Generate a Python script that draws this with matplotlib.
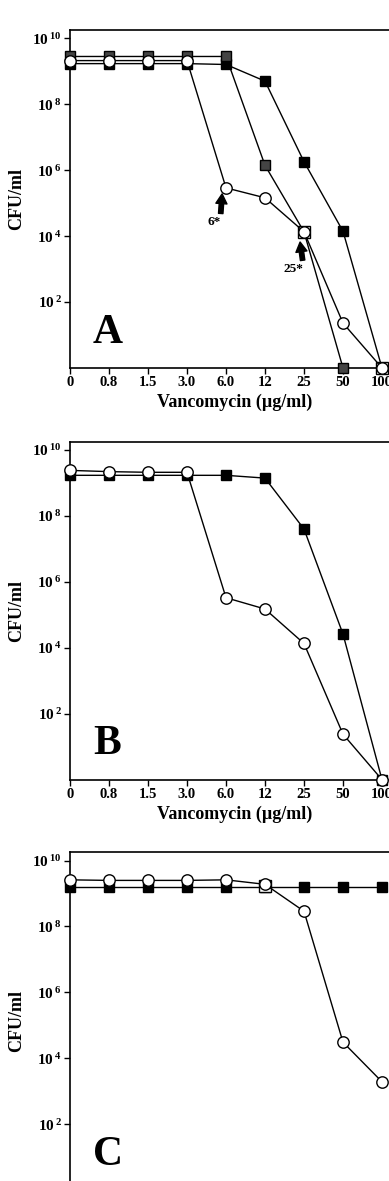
import numpy as np
import matplotlib
matplotlib.use("Agg")
import matplotlib.pyplot as plt

plt.rcParams["font.family"] = ["Liberation Serif", "DejaVu Serif"]
plt.rcParams["font.weight"] = "bold"
plt.rcParams["mathtext.fontset"] = "custom"
plt.rcParams["mathtext.rm"] = "Liberation Serif"
plt.rcParams["mathtext.bf"] = "Liberation Serif:bold"

# Vancomycin concentrations (ug/ml), evenly spaced categories
x_labels = ["0", "0.8", "1.5", "3.0", "6.0", "12", "25", "50", "100"]
nan = np.nan

# Panel A
a_black = [1.7e9, 1.7e9, 1.7e9, 1.7e9, 1.6e9, 5e8, 1.8e6, 1.4e4, 1]
a_gray = [2.8e9, 2.8e9, 2.8e9, 2.8e9, 2.8e9, 1.4e6, 1.35e4, 1, nan]
a_open_sq = [nan, nan, nan, nan, nan, nan, 1.35e4, nan, 1]
a_circ = [2.1e9, 2.1e9, 2.1e9, 2.1e9, 2.9e5, 1.45e5, 1.35e4, 23, 1]

# Panel B
b_black = [1.7e9, 1.7e9, 1.7e9, 1.7e9, 1.7e9, 1.4e9, 4e7, 2.6e4, 1]
b_circ = [2.4e9, 2.2e9, 2.1e9, 2.1e9, 3.3e5, 1.5e5, 1.35e4, 24, 1]

# Panel C
c_black = [1.6e9, 1.6e9, 1.6e9, 1.6e9, 1.6e9, 1.6e9, 1.6e9, 1.6e9, 1.6e9]
c_open_sq = [nan, nan, nan, nan, nan, 1.7e9, nan, nan, nan]
c_circ = [2.6e9, 2.5e9, 2.5e9, 2.5e9, 2.6e9, 1.9e9, 2.9e8, 3.1e4, 1.95e3]

y_ticks = [1e2, 1e4, 1e6, 1e8, 1e10]
y_ticklabels = [r"$\mathbf{10^{\,%d}}$" % int(np.log10(v)) for v in y_ticks]

W, H = 389, 1181
fig = plt.figure(figsize=(W / 100, H / 100), dpi=100)

px_per_cat = 39.0
ax_left = 70
ax_right = 400  # runs off the page like the scanned original
panel_tops = [30, 441.7, 852.3]
panel_h = 338.0


def series(ax, y, marker, fc, ms, z):
    x = np.arange(len(x_labels))
    y = np.asarray(y, dtype=float)
    ax.plot(x, y, "-", color="black", linewidth=1.0, zorder=z,
            marker=marker, markersize=ms, markerfacecolor=fc,
            markeredgecolor="black", markeredgewidth=1.0, clip_on=False)


def open_sq(ax, y, z):
    x = np.arange(len(x_labels))
    ax.plot(x, np.asarray(y, dtype=float), linestyle="none", marker="s",
            markersize=8, markerfacecolor="white", markeredgecolor="black",
            markeredgewidth=1.0, zorder=z, clip_on=False)


def setup_axes(top, letter, show_x=True):
    bottom = top + panel_h
    ax = fig.add_axes([ax_left / W, 1 - bottom / H,
                       (ax_right - ax_left) / W, panel_h / H])
    ax.set_yscale("log")
    ax.set_ylim(1, 10 ** 10.25)
    ax.set_xlim(0, (ax_right - ax_left) / px_per_cat)
    ax.set_xticks(np.arange(len(x_labels)))
    ax.set_xticklabels(x_labels, fontsize=10.5, fontweight="bold")
    ax.set_yticks(y_ticks)
    ax.set_yticklabels(y_ticklabels, fontsize=11)
    ax.yaxis.set_minor_locator(matplotlib.ticker.NullLocator())
    ax.tick_params(direction="out", length=4, width=1, pad=2)
    ax.spines["right"].set_visible(False)
    for s in ("left", "bottom", "top"):
        ax.spines[s].set_linewidth(1.2)
    if show_x:
        ax.set_xlabel("Vancomycin (\u00b5g/ml)", fontsize=13, fontweight="bold",
                      labelpad=3)
    else:
        ax.tick_params(axis="x", labelbottom=False)
    ax.set_ylabel("CFU/ml", fontsize=13, fontweight="bold")
    # label sits ~45 px left of the y axis
    ax.yaxis.set_label_coords(-45 / (ax_right - ax_left), 0.5)
    ax.text(0.069, 0.075, letter, transform=ax.transAxes, fontsize=30,
            fontweight="bold", ha="left", va="baseline")
    return ax


arrow_kw = dict(facecolor="black", edgecolor="black", width=3.2,
                headwidth=8, headlength=7, shrink=0.0)

# ---- Panel A
ax = setup_axes(panel_tops[0], "A")
series(ax, a_black, "s", "black", 7.6, 3)
series(ax, a_gray, "s", "#444444", 7.6, 4)
open_sq(ax, a_open_sq, 5)
series(ax, a_circ, "o", "white", 8.2, 6)
ax.annotate("6*", xy=(3.9, 10 ** 5.28), xytext=(3.69, 10 ** 4.42),
            fontsize=9.5, fontweight="bold", ha="center", va="center",
            arrowprops=arrow_kw)
ax.annotate("25*", xy=(5.9, 10 ** 3.82), xytext=(5.72, 10 ** 3.0),
            fontsize=9.5, fontweight="bold", ha="center", va="center",
            arrowprops=arrow_kw)

# ---- Panel B
ax = setup_axes(panel_tops[1], "B")
series(ax, b_black, "s", "black", 7.6, 3)
series(ax, b_circ, "o", "white", 8.2, 6)

# ---- Panel C (bottom of the panel is cut off in the original)
ax = setup_axes(panel_tops[2], "C", show_x=False)
series(ax, c_black, "s", "black", 7.6, 3)
open_sq(ax, c_open_sq, 5)
series(ax, c_circ, "o", "white", 8.2, 6)

fig.savefig("out.png", dpi=100)
